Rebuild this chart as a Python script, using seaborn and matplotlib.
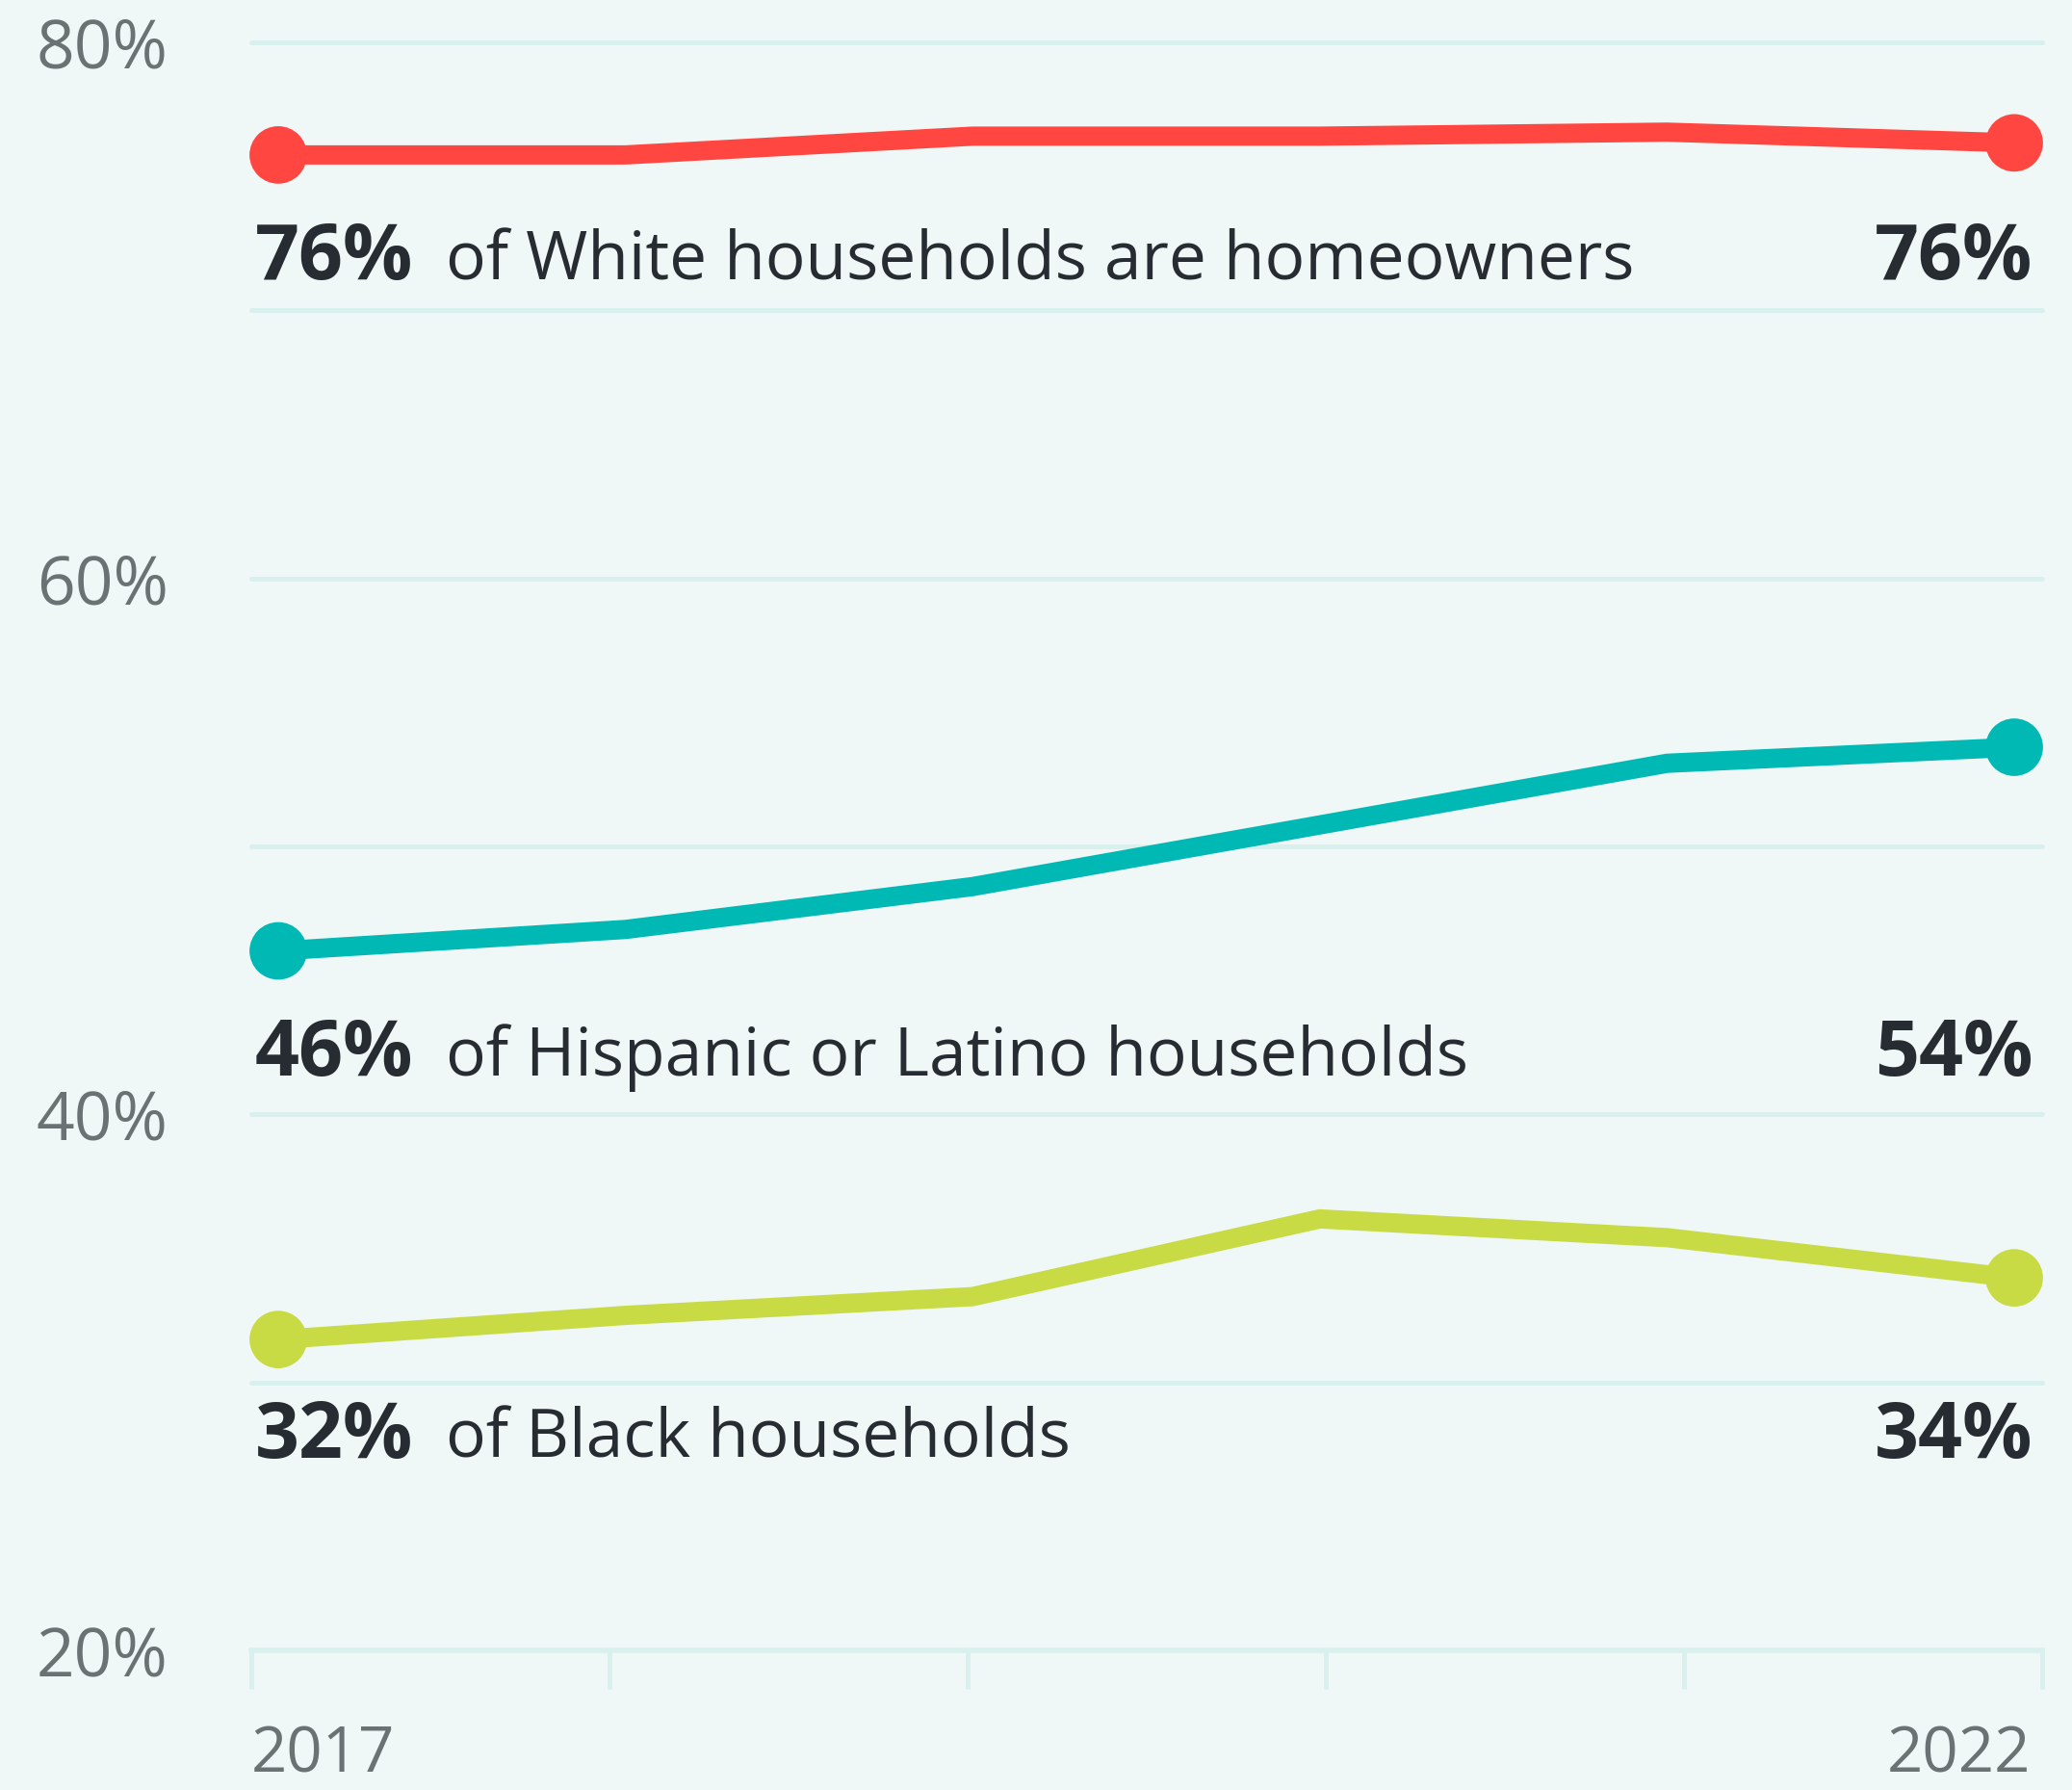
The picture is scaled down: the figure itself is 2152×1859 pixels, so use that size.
import numpy as np
import pandas as pd
import matplotlib
matplotlib.use("Agg")
import matplotlib.pyplot as plt
import matplotlib.transforms as mtransforms
import seaborn as sns

years = [2017, 2018, 2019, 2020, 2021, 2022]
white = [75.8, 75.8, 76.5, 76.5, 76.65, 76.25]
hispanic = [46.1, 46.9, 48.5, 50.8, 53.1, 53.7]
black = [31.6, 32.5, 33.2, 36.1, 35.4, 33.9]
groups = ["White", "Hispanic", "Black"]
start_labels = ["76%", "46%", "32%"]
end_labels = ["76%", "54%", "34%"]
descriptions = ["of White households are homeowners",
                "of Hispanic or Latino households",
                "of Black households"]
label_baselines = [71.15, 41.45, 27.2]
y_ticks = [20, 40, 60, 80]
y_tick_labels = ["20%", "40%", "60%", "80%"]
grid_values = [30, 40, 50, 60, 70, 80]
x_tick_labels = ["2017", "", "", "", "", "2022"]

colors = {"White": "#FF4641", "Hispanic": "#00B8B4", "Black": "#C8DB45"}
BG = "#EFF8F6"
GRID = "#D8F1EE"
TEXT = "#262C31"
TICK = "#6B7273"

df = pd.DataFrame({
    "year": years * 3,
    "value": white + hispanic + black,
    "group": ["White"] * 6 + ["Hispanic"] * 6 + ["Black"] * 6,
})
ends = df[df["year"].isin([years[0], years[-1]])]

sns.set_theme(style="white")
plt.rcParams["font.family"] = ["Open Sans", "DejaVu Sans"]

fig = plt.figure(figsize=(21.52, 18.59), dpi=100, facecolor=BG)
W, H = 2152, 1859
ax = fig.add_axes([261 / W, 1 - 1714 / H, (2121 - 261) / W, (1714 - 44) / H])
ax.set_facecolor(BG)

xlim = (2017 - 28 / 360.6, 2022 + 29 / 360.6)
ax.set_xlim(*xlim)
ax.set_ylim(20, 80)

for g in grid_values:
    ax.axhline(g, color=GRID, lw=3.6, zorder=0, clip_on=False)

sns.lineplot(data=df, x="year", y="value", hue="group", palette=colors,
             lw=14.4, legend=False, ax=ax, zorder=3, solid_joinstyle="miter")
sns.scatterplot(data=ends, x="year", y="value", hue="group", palette=colors,
                s=43 ** 2, linewidth=0, legend=False, ax=ax, zorder=4, clip_on=False)

for s in ["top", "right", "left"]:
    ax.spines[s].set_visible(False)
ax.spines["bottom"].set_color(GRID)
ax.spines["bottom"].set_linewidth(4)

ax.set_xticks(np.linspace(xlim[0], xlim[1], 6))
ax.set_xticklabels(x_tick_labels)
ax.tick_params(axis="x", bottom=True, length=29, width=3.6, color=GRID, pad=26,
               labelsize=47, labelcolor=TICK)
labs = ax.get_xticklabels()
labs[0].set_horizontalalignment("left")
labs[-1].set_horizontalalignment("right")
labs[-1].set_transform(labs[-1].get_transform() +
                       mtransforms.ScaledTranslation(-0.12, 0, fig.dpi_scale_trans))

ax.set_yticks(y_ticks)
ax.set_yticklabels(y_tick_labels)
ax.tick_params(axis="y", left=False, length=0, pad=62, labelsize=50, labelcolor=TICK)
ax.set_xlabel("")
ax.set_ylabel("")

trans = mtransforms.blended_transform_factory(ax.transAxes, ax.transData)
for sl, el, desc, yb in zip(start_labels, end_labels, descriptions, label_baselines):
    ax.text(0.002, yb, sl, transform=trans, fontsize=58, fontweight="bold",
            color=TEXT, ha="left", va="baseline")
    ax.text(0.1086, yb, desc, transform=trans, fontsize=50,
            color=TEXT, ha="left", va="baseline")
    ax.text(0.9950, yb, el, transform=trans, fontsize=58, fontweight="bold",
            color=TEXT, ha="right", va="baseline")

fig.savefig("out.png", dpi=100, facecolor=BG)
